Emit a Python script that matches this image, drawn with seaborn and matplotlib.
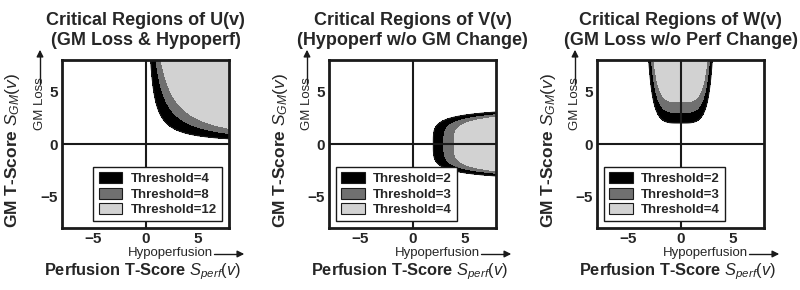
import numpy as np
import seaborn as sns
import matplotlib.pyplot as plt
from matplotlib.patches import Patch

sns.set_theme(style='white')
plt.rcParams['font.family'] = ['Liberation Sans', 'DejaVu Sans']
plt.rcParams['mathtext.fontset'] = 'custom'
plt.rcParams['mathtext.it'] = 'Liberation Sans:italic'
plt.rcParams['mathtext.rm'] = 'Liberation Sans'

# chart data
titles = ['Critical Regions of U(v)\n(GM Loss & Hypoperf)',
          'Critical Regions of V(v)\n(Hypoperf w/o GM Change)',
          'Critical Regions of W(v)\n(GM Loss w/o Perf Change)']
thresholds_u = [4, 8, 12]
thresholds_v = [2, 3, 4]
thresholds_w = [2, 3, 4]
fill_colors = ['#000000', '#707070', '#d2d2d2']
legend_locs = ['lower right', 'lower left', 'lower left']
ticks = [-5, 0, 5]
lim = 8

# score grid (perfusion t-score on x, GM t-score on y)
s = np.linspace(-lim, lim, 801)
sx, sy = np.meshgrid(s, s)
U = np.where((sx > 0) & (sy > 0), sx * sy, 0)
V = np.where(sx > 0, sx * np.exp(-(sy / 2.8) ** 4), 0)
W = np.where(sy > 0, sy * np.exp(-(sx / 2.8) ** 4), 0)
fields = [U, V, W]
thresholds = [thresholds_u, thresholds_v, thresholds_w]

W_PX, H_PX = 800, 290
fig = plt.figure(figsize=(8, 2.9), dpi=100)


def fx(x):
    return x / W_PX


def fy(y):
    return 1 - y / H_PX


lefts = [62, 329, 597]
top, bottom, width = 60, 228, 167

for i in range(3):
    L = lefts[i]
    ax = fig.add_axes([fx(L), fy(bottom), width / W_PX, (bottom - top) / H_PX])
    th = thresholds[i]
    ax.contourf(sx, sy, fields[i], levels=th + [1e9], colors=fill_colors)
    ax.contour(sx, sy, fields[i], levels=[th[0]], colors='k', linewidths=0.8)
    ax.axhline(0, color='k', lw=1.5)
    ax.axvline(0, color='k', lw=1.5)
    ax.set_xlim(-lim, lim)
    ax.set_ylim(-lim, lim)
    ax.set_xticks(ticks)
    ax.set_yticks(ticks)
    ax.tick_params(direction='in', length=3, width=1, pad=3,
                   labelsize=11)
    for lab in ax.get_xticklabels() + ax.get_yticklabels():
        lab.set_fontweight('bold')
    for sp in ax.spines.values():
        sp.set_visible(True)
        sp.set_color('k')
        sp.set_linewidth(2)
    ax.set_title(titles[i], fontsize=13, fontweight='bold', pad=11,
                 linespacing=1.2)

    handles = [Patch(facecolor=c, edgecolor='k', lw=0.8) for c in fill_colors]
    labels = ['Threshold=%d' % t for t in th]
    leg = ax.legend(handles, labels, loc=legend_locs[i], frameon=True,
                    fancybox=False, edgecolor='k', framealpha=1,
                    prop={'weight': 'bold', 'size': 9.5},
                    handlelength=1.8, handleheight=0.9, handletextpad=0.65,
                    labelspacing=0.18, borderpad=0.4, borderaxespad=0.5)
    leg.get_frame().set_linewidth(1)

    dx = L - 62
    # y axis labels
    fig.text(fx(13 + dx), fy(150), r'GM T-Score $S_{GM}(v)$', rotation=90,
             ha='center', va='center', fontsize=12.5, fontweight='bold')
    fig.text(fx(40 + dx), fy(104), 'GM Loss', rotation=90,
             ha='center', va='center', fontsize=9.5)
    fig.add_artist(plt.Line2D([fx(40 + dx)] * 2, [fy(84), fy(56)],
                              color='k', lw=1))
    ax.annotate('', xy=(fx(40 + dx), fy(47)), xytext=(fx(40 + dx), fy(58)),
                xycoords='figure fraction', textcoords='figure fraction',
                arrowprops=dict(arrowstyle='-|>', color='k', lw=1,
                                mutation_scale=10))
    # x axis labels
    fig.text(fx(170 + dx), fy(253), 'Hypoperfusion', ha='center',
             va='center', fontsize=9.5)
    fig.add_artist(plt.Line2D([fx(214 + dx), fx(238 + dx)], [fy(254)] * 2,
                              color='k', lw=1))
    ax.annotate('', xy=(fx(247 + dx), fy(254)), xytext=(fx(236 + dx), fy(254)),
                xycoords='figure fraction', textcoords='figure fraction',
                arrowprops=dict(arrowstyle='-|>', color='k', lw=1,
                                mutation_scale=10))
    fig.text(fx(142 + dx), fy(272), r'Perfusion T-Score $S_{perf}(v)$',
             ha='center', va='center', fontsize=11.8, fontweight='bold')

fig.savefig('out.png', dpi=100)
